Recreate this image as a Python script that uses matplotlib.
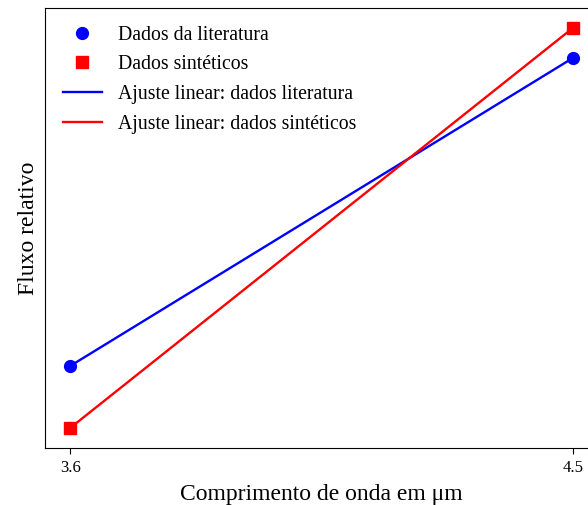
import matplotlib
matplotlib.use("Agg")
import matplotlib.pyplot as plt
import numpy as np

plt.rcParams['font.family'] = ['Liberation Serif', 'DejaVu Serif']

# comprimentos de onda (um) e fluxos relativos
wavelength = np.array([3.6, 4.5])
flux_lit = np.array([0.662, 0.970])
flux_sint = np.array([0.600, 1.000])

fig = plt.figure(figsize=(5.88, 5.05), dpi=100)
ax = fig.add_axes([45 / 588, 57 / 505, 553 / 588, 440 / 505])

ax.plot(wavelength, flux_lit, 'o', color='blue', markersize=8.5, label='Dados da literatura')
ax.plot(wavelength, flux_sint, 's', color='red', markersize=8.5, label='Dados sintéticos')

# ajuste linear de cada conjunto
coef_lit = np.polyfit(wavelength, flux_lit, 1)
coef_sint = np.polyfit(wavelength, flux_sint, 1)
ax.plot(wavelength, np.polyval(coef_lit, wavelength), color='blue', lw=1.7,
        label='Ajuste linear: dados literatura')
ax.plot(wavelength, np.polyval(coef_sint, wavelength), color='red', lw=1.7,
        label='Ajuste linear: dados sintéticos')

ax.set_xticks(wavelength)
ax.set_xticklabels(['3.6', '4.5'], fontsize=12)
ax.tick_params(axis='x', length=4, pad=4.5)
ax.set_yticks([])
ax.set_xlabel('Comprimento de onda em μm', fontsize=17, labelpad=6)
ax.set_ylabel('Fluxo relativo', fontsize=17, labelpad=4)
ax.legend(loc='upper left', frameon=False, fontsize=14.2, numpoints=1,
          labelspacing=0.54)

plt.savefig('out.png', dpi=100)
